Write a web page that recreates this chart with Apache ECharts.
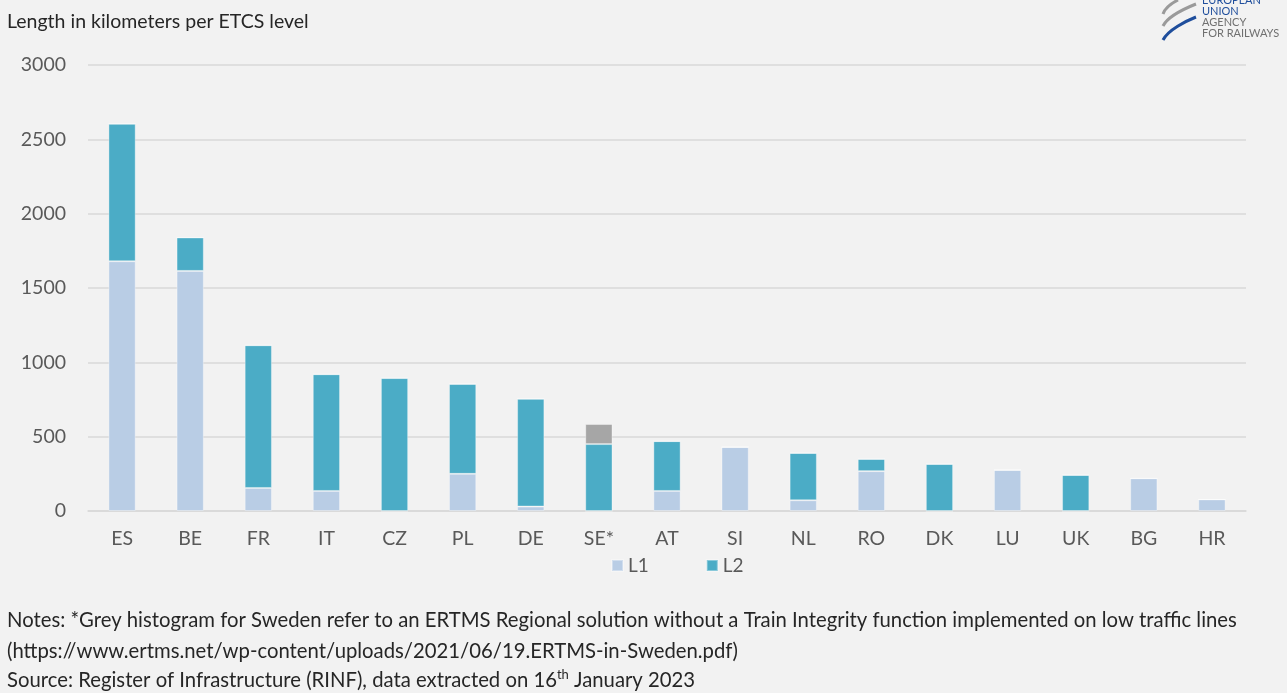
<!DOCTYPE html>
<html>
<head>
<meta charset="utf-8">
<script src="https://cdn.jsdelivr.net/npm/echarts@6/dist/echarts.min.js"></script>
<style>
  html, body { margin: 0; padding: 0; background: #f2f2f2; }
  #chart { width: 1287px; height: 693px; }
</style>
</head>
<body>
<div id="chart"></div>
<script>
// ETCS level lengths per country
const countries = ['ES', 'BE', 'FR', 'IT', 'CZ', 'PL', 'DE', 'SE*', 'AT', 'SI', 'NL', 'RO', 'DK', 'LU', 'UK', 'BG', 'HR'];
const l1 = [1680, 1615, 155, 135, 0, 250, 30, 0, 135, 430, 72, 268, 0, 276, 0, 220, 78];
const l2 = [925, 225, 960, 785, 894, 605, 725, 450, 335, 0, 318, 82, 316, 0, 242, 0, 0];
const regional = [0, 0, 0, 0, 0, 0, 0, 135, 0, 0, 0, 0, 0, 0, 0, 0, 0];
const yTicks = { min: 0, max: 3000, interval: 500 };

const FONT = 'Lato, "Open Sans", sans-serif';
const TXT = '#595959';

const chart = echarts.init(document.getElementById('chart'));
const barStyle = (color) => ({ color, borderColor: 'rgba(255,255,255,0.35)', borderWidth: 1 });

chart.setOption({
  animation: false,
  backgroundColor: '#f2f2f2',
  textStyle: { fontFamily: FONT },
  grid: { left: 88, right: 41, top: 65, bottom: 182 },
  legend: {
    data: ['L1', 'L2'],
    left: 606, top: 551,
    itemWidth: 11, itemHeight: 11, itemGap: 57,
    icon: 'rect',
    textStyle: { color: TXT, fontSize: 19, fontFamily: FONT }
  },
  xAxis: {
    type: 'category',
    data: countries,
    axisLine: { lineStyle: { color: '#d9d9d9', width: 1.5 } },
    axisTick: { show: false },
    axisLabel: { color: TXT, fontSize: 19.5, margin: 18, fontFamily: FONT }
  },
  yAxis: {
    type: 'value',
    min: yTicks.min, max: yTicks.max, interval: yTicks.interval,
    axisLine: { show: false },
    axisTick: { show: false },
    axisLabel: { color: TXT, fontSize: 19.5, margin: 22, fontFamily: FONT, formatter: v => String(v) },
    splitLine: { lineStyle: { color: '#d9d9d9', width: 1.5 } }
  },
  series: [
    { name: 'L1', type: 'bar', stack: 'km', barWidth: '40%', data: l1, itemStyle: barStyle('#b9cde5') },
    { name: 'L2', type: 'bar', stack: 'km', data: l2, itemStyle: barStyle('#4bacc6') },
    { name: 'Regional', type: 'bar', stack: 'km', data: regional, itemStyle: barStyle('#a6a6a6') }
  ],
  graphic: [
    { type: 'text', left: 7, top: 12, style: { text: 'Length in kilometers per ETCS level', fill: '#262626', font: '19.5px ' + FONT } },
    { type: 'text', left: 7, top: 610, style: { text: 'Notes: *Grey histogram for Sweden refer to an ERTMS Regional solution without a Train Integrity function implemented on low traffic lines', fill: '#262626', font: '20.3px ' + FONT } },
    { type: 'text', left: 7, top: 641, style: { text: '(https://www.ertms.net/wp-content/uploads/2021/06/19.ERTMS-in-Sweden.pdf)', fill: '#262626', font: '20.3px ' + FONT } },
    { type: 'text', left: 7, top: 668, style: {
        text: '{a|Source: Register of Infrastructure (RINF), data extracted on 16}{s|th}{a| January 2023}',
        rich: {
          a: { fill: '#262626', font: '20.3px ' + FONT, verticalAlign: 'bottom' },
          s: { fill: '#262626', font: '13px ' + FONT, verticalAlign: 'top', padding: [0, 0, 9, 0] }
        }
      } },
    // agency logo
    { type: 'bezierCurve', shape: { x1: 1163, y1: 14, x2: 1178, y2: 0, cpx1: 1165, cpy1: 8, cpx2: 1172, cpy2: 3 }, style: { stroke: '#9a9a9a', lineWidth: 3, fill: 'none' } },
    { type: 'bezierCurve', shape: { x1: 1163, y1: 26, x2: 1196, y2: 4, cpx1: 1168, cpy1: 16, cpx2: 1186, cpy2: 8 }, style: { stroke: '#9a9a9a', lineWidth: 3, fill: 'none' } },
    { type: 'bezierCurve', shape: { x1: 1163, y1: 40, x2: 1196, y2: 17, cpx1: 1168, cpy1: 30, cpx2: 1186, cpy2: 21 }, style: { stroke: '#1f4e9c', lineWidth: 3, fill: 'none' } },
    { type: 'text', left: 1202, top: -5, style: { text: 'EUROPEAN', fill: '#1f4e9c', font: '11px ' + FONT } },
    { type: 'text', left: 1202, top: 6, style: { text: 'UNION', fill: '#1f4e9c', font: '11px ' + FONT } },
    { type: 'text', left: 1202, top: 17, style: { text: 'AGENCY', fill: '#707070', font: '11px ' + FONT } },
    { type: 'text', left: 1202, top: 28, style: { text: 'FOR RAILWAYS', fill: '#707070', font: '11px ' + FONT } }
  ]
});
</script>
</body>
</html>
